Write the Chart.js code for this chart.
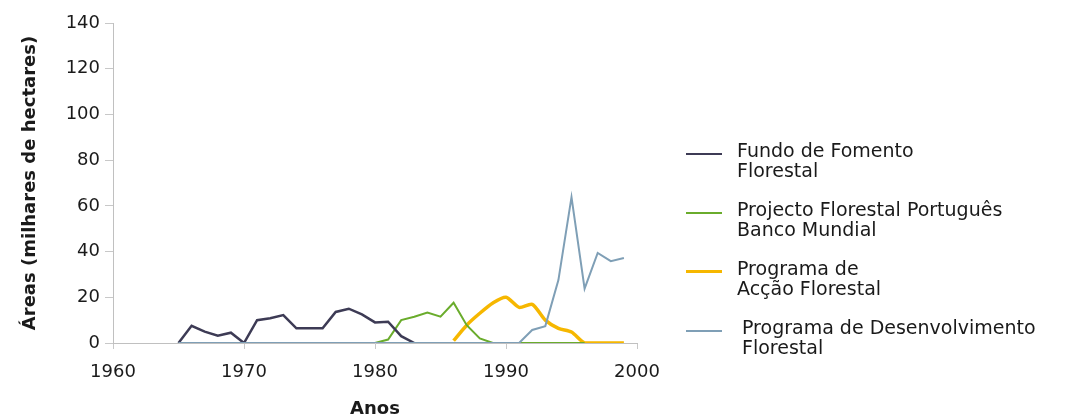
<!DOCTYPE html>
<html>
<head>
<meta charset="utf-8">
<script src="https://cdn.jsdelivr.net/npm/chart.js@4.4.1/dist/chart.umd.min.js"></script>
<style>
  html, body { margin: 0; padding: 0; background: #fff; }
  #wrap { position: relative; width: 1070px; height: 418px; }
  #legend { position: absolute; left: 686px; top: 141px; font: 19px "DejaVu Sans", sans-serif; color: #1a1a1a; }
  .item { position: relative; height: 59px; }
  .item .sw { position: absolute; left: 0; width: 36px; }
  .item .tx { position: absolute; left: 51px; top: 0; line-height: 19.5px; white-space: nowrap; }
</style>
</head>
<body>
<div id="wrap">
  <canvas id="c" width="1070" height="418"></canvas>
  <div id="legend"></div>
</div>
<script>
// data (milhares de hectares)
const years = [1960, 1961, 1962, 1963, 1964, 1965, 1966, 1967, 1968, 1969,
               1970, 1971, 1972, 1973, 1974, 1975, 1976, 1977, 1978, 1979,
               1980, 1981, 1982, 1983, 1984, 1985, 1986, 1987, 1988, 1989,
               1990, 1991, 1992, 1993, 1994, 1995, 1996, 1997, 1998, 1999];

const fundoFomento = [null, null, null, null, null, 0, 7.5, 5, 3.2, 4.5,
                      0, 10, 10.8, 12.2, 6.4, 6.4, 6.4, 13.6, 15, 12.5,
                      9, 9.3, 3, 0, null, null, null, null, null, null,
                      null, null, null, null, null, null, null, null, null, null];

const projectoBM = [null, null, null, null, null, null, null, null, null, null,
                    null, null, null, null, null, null, null, null, null, null,
                    0, 1.5, 10, 11.5, 13.3, 11.5, 17.6, 7.8, 2, 0,
                    0, 0, 0, 0, 0, 0, 0, null, null, null];

const accaoFlorestal = [null, null, null, null, null, null, null, null, null, null,
                        null, null, null, null, null, null, null, null, null, null,
                        null, null, null, null, null, null, 1, 7.8, 13, 17.5,
                        20, 15.6, 16.9, 10, 6.4, 4.8, 0, 0, 0, 0];

const desenvFlorestal = [null, null, null, null, null, 0, 0, 0, 0, 0,
                         0, 0, 0, 0, 0, 0, 0, 0, 0, 0,
                         0, 0, 0, 0, 0, 0, 0, 0, 0, 0,
                         0, 0, 5.7, 7.4, 27.5, 63.8, 23.8, 39.4, 35.8, 37.2];

const seriesNames = [
  ["Fundo de Fomento", "Florestal"],
  ["Projecto Florestal Português", "Banco Mundial"],
  ["Programa de", "Acção Florestal"],
  ["Programa de Desenvolvimento", "Florestal"]
];
const seriesColors = ["#3d3b55", "#6aac2c", "#f6b700", "#7f9fb6"];
const seriesWidths = [2.5, 2, 3.5, 2];

const yTicks = [0, 20, 40, 60, 80, 100, 120, 140];
const xTicks = [1960, 1970, 1980, 1990, 2000];

const FONT = '"DejaVu Sans", sans-serif';
const values = [fundoFomento, projectoBM, accaoFlorestal, desenvFlorestal];
const drawOrder = [1, 2, 3, 0];

const datasets = values.map((v, i) => ({
  label: seriesNames[i].join(" "),
  data: v,
  borderColor: seriesColors[i],
  backgroundColor: seriesColors[i],
  borderWidth: seriesWidths[i],
  pointRadius: 0,
  tension: i === 2 ? 0.25 : 0,
  spanGaps: false,
  order: drawOrder[i]
}));

new Chart(document.getElementById("c"), {
  type: "line",
  data: { labels: years, datasets },
  options: {
    responsive: false,
    animation: false,
    layout: { padding: { left: 0, right: 433, top: 23, bottom: 0 } },
    plugins: { legend: { display: false }, tooltip: { enabled: false } },
    scales: {
      x: {
        type: "linear",
        min: 1960,
        max: 2000,
        afterBuildTicks: s => { s.ticks = xTicks.map(v => ({ value: v })); },
        afterFit: s => { s.height = 75; },
        grid: { drawOnChartArea: false, tickLength: 6, tickColor: "#c8c8c8" },
        border: { color: "#c0c0c0" },
        ticks: { color: "#1a1a1a", font: { family: FONT, size: 18 }, padding: 13, maxRotation: 0,
                 callback: v => String(v) },
        title: { display: true, text: "Anos", color: "#1a1a1a",
                 font: { family: FONT, size: 18, weight: "bold", lineHeight: 1 }, padding: 0 }
      },
      y: {
        min: 0,
        max: 140,
        afterBuildTicks: s => { s.ticks = yTicks.map(v => ({ value: v })); },
        afterFit: s => { s.width = 113; },
        grid: { drawOnChartArea: false, tickLength: 8, tickColor: "#c8c8c8" },
        border: { color: "#c0c0c0" },
        ticks: { color: "#1a1a1a", font: { family: FONT, size: 18 }, padding: 5 },
        title: { display: true, text: "Áreas (milhares de hectares)", color: "#1a1a1a",
                 font: { family: FONT, size: 18, weight: "bold" }, padding: { top: 20, bottom: 0 } }
      }
    }
  }
});

// legend with two-line labels
const legend = document.getElementById("legend");
seriesNames.forEach((lines, i) => {
  const item = document.createElement("div");
  item.className = "item";
  const sw = document.createElement("div");
  sw.className = "sw";
  sw.style.borderTop = seriesWidths[i] + "px solid " + seriesColors[i];
  sw.style.top = (13 - seriesWidths[i] / 2) + "px";
  const tx = document.createElement("div");
  tx.className = "tx";
  if (i === 3) tx.style.left = "56px";
  tx.innerHTML = lines.join("<br>");
  item.appendChild(sw);
  item.appendChild(tx);
  legend.appendChild(item);
});
</script>
</body>
</html>
